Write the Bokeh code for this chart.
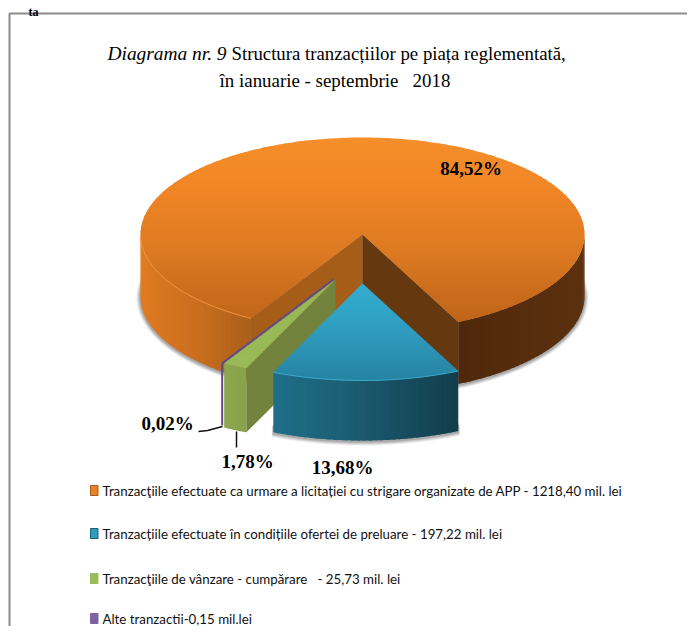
import math
from bokeh.plotting import figure
from bokeh.embed import file_html
from bokeh.resources import INLINE
from bokeh.core.properties import value

# ---- data ----
slice_names = ["Tranzacţiile efectuate ca urmare a licitației cu strigare organizate de APP - 1218,40 mil. lei",
               "Tranzacțiile efectuate în condițiile ofertei de preluare - 197,22 mil. lei",
               "Tranzacţiile de vânzare - cumpărare \u00a0 - 25,73 mil. lei",
               "Alte tranzactii-0,15 mil.lei"]
shares = [84.52, 13.68, 1.78, 0.02]
share_labels = ["84,52%", "13,68%", "1,78%", "0,02%"]
swatch_colors = ["#E8822A", "#2E9CC0", "#9BBB59", "#8064A2"]
swatch_edges = ["#A85A18", "#1B6078", "#9BBB59", "#8064A2"]
title_italic = "Diagrama nr. 9"
title_rest = "Structura tranzacțiilor pe piața reglementată,"
title_line2 = "în ianuarie - septembrie \u00a0 2018"
heading_tail = "ta"

# ---- geometry of the 3D pie in picture pixels ----
CX, CY, RX, RY = 362.0, 234.0, 222.0, 97.0
START = 30.17      # degrees from "down", clockwise on screen
OFFSETS = [(0, 0, 62), (0, 49, 60), (-27, 45, 64), (-29, 45, 62)]

W, H = 687, 626
p = figure(width=W, height=H, x_range=(0, W), y_range=(H, 0),
           output_backend="svg", toolbar_location=None,
           x_axis_location=None, y_axis_location=None, min_border=0,
           outline_line_color=None)
p.grid.visible = False
p.background_fill_color = "#FFFFFF"
p.border_fill_color = "#FFFFFF"


def pt(phi, dx=0.0, dy=0.0, grow=0.0):
    r = math.radians(phi)
    return (CX + dx - (RX + grow) * math.sin(r), CY + dy + (RY + grow) * math.cos(r))


def hexrgb(c):
    return tuple(int(c[i:i + 2], 16) for i in (1, 3, 5))


def ramp(stops, t):
    if t <= stops[0][0]:
        return stops[0][1]
    for (a, ca), (b, cb) in zip(stops, stops[1:]):
        if t <= b:
            f = (t - a) / (b - a)
            x, y = hexrgb(ca), hexrgb(cb)
            return "#%02X%02X%02X" % tuple(round(x[i] + (y[i] - x[i]) * f) for i in range(3))
    return stops[-1][1]


def clip(poly, y0, keep_below):
    out = []
    n = len(poly)
    for i in range(n):
        a, b = poly[i], poly[(i + 1) % n]
        ina = a[1] >= y0 if keep_below else a[1] <= y0
        inb = b[1] >= y0 if keep_below else b[1] <= y0
        if ina:
            out.append(a)
        if ina != inb:
            f = (y0 - a[1]) / (b[1] - a[1])
            out.append((a[0] + (b[0] - a[0]) * f, y0))
    return out


def draw_polys(polys, colors):
    xs = [[q[0] for q in poly] for poly in polys]
    ys = [[q[1] for q in poly] for poly in polys]
    p.patches(xs, ys, fill_color=colors, line_color=None)


def top_polygon(a0, a1, dx, dy):
    n = max(2, int(abs(a1 - a0)))
    apex = (CX + dx, CY + dy)
    return [apex] + [pt(a0 + (a1 - a0) * i / n, dx, dy) for i in range(n + 1)]


def vertical_gradient(poly, stops):
    ys = [q[1] for q in poly]
    lo, hi = min(ys), max(ys)
    polys, cols = [], []
    step = 3.0
    y = lo
    while y < hi:
        # every band runs on under the next one, so no seam shows
        piece = clip(clip(poly, y, True), y + step + 1.5, False)
        if len(piece) > 2:
            polys.append(piece)
            cols.append(ramp(stops, y + step / 2))
        y += step
    draw_polys(polys, cols)


def side(a0, a1, dx, dy, depth, stops):
    """front rim between angles a0 and a1, shaded by x"""
    n = max(2, int(abs(a1 - a0) / 1.5))
    polys, cols = [], []
    for i in range(n):
        u = a0 + (a1 - a0) * i / n
        v = a0 + (a1 - a0) * min(i + 1.6, n) / n
        mid = pt(a0 + (a1 - a0) * (i + 0.5) / n, dx, dy)
        steps = 4
        upper = [pt(u + (v - u) * j / steps, dx, dy) for j in range(steps + 1)]
        lower = [(q[0], q[1] + depth) for q in reversed(upper)]
        polys.append(upper + lower)
        cols.append(ramp(stops, mid[0]))
    draw_polys(polys, cols)


def wall(phi, dx, dy, depth, color):
    c = pt(phi, dx, dy)
    p.patch([CX + dx, c[0], c[0], CX + dx],
            [CY + dy, c[1], c[1] + depth, CY + dy + depth],
            fill_color=color, line_color=None)


def rim(a0, a1, dx, dy, color, width=1.0):
    n = max(2, int(abs(a1 - a0)))
    q = [pt(a0 + (a1 - a0) * i / n, dx, dy) for i in range(n + 1)]
    p.line([c[0] for c in q], [c[1] for c in q], line_color=color, line_width=width)


# slice angles, from the shares
edges = [START]
for s in shares:
    edges.append(edges[-1] + s * 3.6)
a_or, a_bl, a_gr, a_pu = [(edges[i], edges[i + 1]) for i in range(4)]

# frame
p.line([W, 9, 9], [13, 13, H], line_color="#8C8C8C", line_width=2)

# soft shadows
for g, al in [(4, 0.10), (3, 0.14), (2, 0.18), (1, 0.22)]:
    poly = [pt(a_or[0] + (a_or[1] - a_or[0]) * i / 200, 0, OFFSETS[0][2] + 1, g) for i in range(201)]
    p.patch([q[0] for q in poly], [q[1] for q in poly], fill_color="#555555", fill_alpha=al, line_color=None)
    n = 40
    poly = [pt(a_bl[0] + (a_bl[1] - a_bl[0]) * i / n, 0, OFFSETS[1][1] + OFFSETS[1][2] + 1, g) for i in range(n + 1)]
    poly = [(poly[0][0], poly[0][1] - 10)] + poly + [(poly[-1][0], poly[-1][1] - 10)]
    p.patch([q[0] for q in poly], [q[1] for q in poly], fill_color="#555555", fill_alpha=al, line_color=None)

# --- orange slice ---
dx, dy, d = OFFSETS[0]
side(a_or[0], 90, dx, dy, d, [(140, "#E07B22"), (200, "#C86D1E"), (252, "#A85E1A")])
side(a_or[1], 270, dx, dy, d, [(459, "#4F290C"), (584, "#5C310F")])
wall(a_or[0], dx, dy, d, "#A65D17")
wall(a_or[1] % 360, dx, dy, d, "#66380F")
vertical_gradient(top_polygon(a_or[0], a_or[1], dx, dy),
                  [(137, "#F68E2A"), (190, "#F08526"), (250, "#DD7A22"), (322, "#BF6419")])
rim(a_or[0], 89, dx, dy, "#F3963C", 1.0)

# --- purple slice: too thin for anything but its edge ---
dx, dy, d = OFFSETS[3]
c = pt(a_pu[0], dx, dy)
p.line([CX + dx, c[0], c[0]], [CY + dy, c[1], c[1] + d], line_color="#5F4B8B", line_width=2)

# --- green slice ---
dx, dy, d = OFFSETS[2]
side(a_gr[0], a_gr[1], dx, dy, d, [(224, "#8BA84E"), (247, "#87A24A")])
wall(a_gr[0], dx, dy, d, "#71833D")
vertical_gradient(top_polygon(a_gr[0], a_gr[1], dx, dy), [(279, "#97B556"), (368, "#9ABA58")])

# --- blue slice ---
dx, dy, d = OFFSETS[1]
side(a_bl[0], a_bl[1], dx, dy, d, [(273, "#1F6F8A"), (360, "#1B5A6F"), (458, "#123D4C")])
vertical_gradient(top_polygon(a_bl[0], a_bl[1], dx, dy),
                  [(283, "#33ADD0"), (330, "#2F9CBE"), (385, "#2580A0")])
rim(a_bl[0], a_bl[1], dx, dy, "#38A9CB", 1.0)

# leader lines
p.line([198, 207, 222], [431, 430, 426], line_color="#111111", line_width=1.5)
p.line([236, 236], [431, 447], line_color="#111111", line_width=1.5)

# value labels
serif = value("Liberation Serif")
for (x, y), txt in zip([(470.5, 168), (342, 467), (247, 461), (167, 423)], share_labels):
    p.text([x], [y], text=[txt], text_font=serif, text_font_size="19px", text_font_style="bold",
           text_color="#000000", text_align="center", text_baseline="middle")

# end of the heading above the frame
p.text([38], [11], text=[heading_tail], text_font=serif, text_font_size="12px", text_font_style="bold",
       text_color="#000000", text_align="right", text_baseline="alphabetic")

# title
p.text([107], [53], text=[title_italic], text_font=serif, text_font_size="19.4px", text_font_style="italic",
       text_color="#000000", text_align="left", text_baseline="middle")
p.text([231], [53], text=[title_rest], text_font=serif, text_font_size="18.8px",
       text_color="#000000", text_align="left", text_baseline="middle")
p.text([334.5], [80], text=[title_line2], text_font=serif, text_font_size="18.9px",
       text_color="#000000", text_align="center", text_baseline="middle")

# legend
rows = [490, 533, 578, 618]
p.quad(left=[90] * 4, right=[97.5] * 4, top=[r - 5 for r in rows], bottom=[r + 5 for r in rows],
       fill_color=swatch_colors, line_color=swatch_edges, line_width=1)
p.text([102] * 4, rows, text=slice_names, text_font=value("Lato"), text_font_size="13.3px",
       text_color="#111111", text_align="left", text_baseline="middle")

open("out.html", "w").write(file_html(p, INLINE))
